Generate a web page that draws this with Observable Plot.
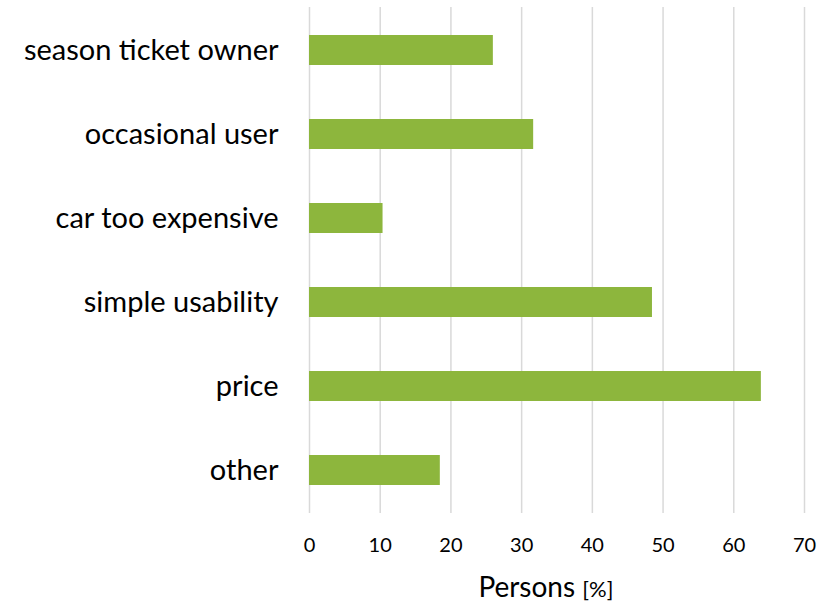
<!DOCTYPE html>
<html>
<head>
<meta charset="utf-8">
<script src="https://cdn.jsdelivr.net/npm/d3@7"></script>
<script src="https://cdn.jsdelivr.net/npm/@observablehq/plot@0.6"></script>
<style>
  body { margin: 0; background: #fff; }
  #chart svg { display: block; }
</style>
</head>
<body>
<div id="chart"></div>
<script>
const categories = ["season ticket owner", "occasional user", "car too expensive", "simple usability", "price", "other"];
const values = [26.0, 31.7, 10.4, 48.5, 63.9, 18.5];
const xTicks = [0, 10, 20, 30, 40, 50, 60, 70];
const axisTitle = "Persons";
const axisUnit = "[%]";

const data = categories.map((c, i) => ({category: c, value: values[i]}));
const font = "Lato, 'Open Sans', sans-serif";

const plot = Plot.plot({
  width: 831,
  height: 604,
  marginLeft: 309,
  marginRight: 27,
  marginTop: 7,
  marginBottom: 91,
  style: {fontFamily: font, color: "#000", background: "#fff"},
  x: {domain: [0, 70], ticks: xTicks, label: null},
  y: {domain: categories, paddingInner: 0.645, paddingOuter: 0.3225, label: null},
  marks: [
    Plot.gridX(xTicks, {stroke: "#d9d9d9", strokeOpacity: 1, strokeWidth: 1.5}),
    Plot.barX(data, {x: "value", y: "category", fill: "#8db63d"}),
    Plot.axisX({ticks: xTicks, tickSize: 0, tickPadding: 24, fontSize: 20, label: null}),
    Plot.axisY({tickSize: 0, tickPadding: 31, fontSize: 29, label: null})
  ]
});

const xs = plot.scale("x");
const svg = d3.select(plot);
const t = svg.append("text")
  .attr("x", xs.apply(33.5))
  .attr("y", 597)
  .attr("text-anchor", "middle")
  .attr("font-family", font)
  .attr("fill", "#000");
t.append("tspan").attr("font-size", 28).text(axisTitle + " ");
t.append("tspan").attr("font-size", 22).text(axisUnit);

document.getElementById("chart").appendChild(plot);
</script>
</body>
</html>
